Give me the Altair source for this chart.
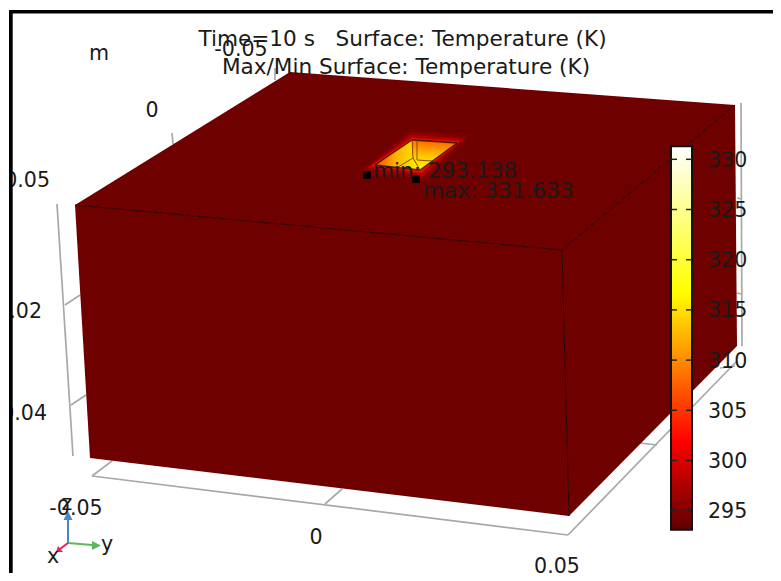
import altair as alt

# Projected outline of the model, in picture units
FACES = {
    "top": [(75, 205), (290, 72), (735, 105), (562, 250)],
    "front": [(75, 205), (562, 250), (569, 516), (90, 458)],
    "side": [(562, 250), (735, 105), (737, 346), (569, 516)],
}
GLOW = [
    ("#780000", [(356, 173), (410, 129), (472, 135), (425, 182)]),
    ("#8e0000", [(362, 171), (411, 132), (467, 137), (424, 179)]),
    ("#b00000", [(367, 168), (411, 135), (463, 139), (423, 176)]),
    ("#e01000", [(371, 166), (411.5, 138), (460, 141), (421, 173)]),
]
HOT_LEFT = [(375, 165), (412, 140), (413, 158), (420, 170)]
HOT_RIGHT = [(412, 140), (457, 143), (420, 170), (413, 158)]
EDGES = [
    ((75, 205), (562, 250)), ((562, 250), (735, 105)), ((562, 250), (569, 516)),
    ((375, 165), (412, 140)), ((412, 140), (457, 143)), ((457, 143), (420, 170)),
    ((420, 170), (375, 165)), ((412, 140), (413, 158)), ((417, 140), (417, 160)),
    ((413, 158), (420, 170)), ((413, 158), (398, 167)), ((417, 160), (432, 161)),
]
GRID = [
    ((57, 204), (73, 456)), ((65, 305), (80, 295)), ((71, 405), (86, 395)),
    ((172, 133), (173, 144)), ((275, 68), (275, 80)),
    ((92, 476), (568, 535)), ((92, 476), (112, 461)), ((325, 504), (342, 489)),
    ((568, 535), (736, 362)),
    ((640, 443), (657, 445)), ((720, 368), (735, 366)),
    ((741, 103), (742, 346)), ((737, 198), (741, 199)), ((737, 293), (741, 294)),
]
TRIAD = [
    ("#4a86c8", (68, 543), (68, 519), [(68, 511), (63.5, 520), (72.5, 520)]),
    ("#5cb85c", (68, 543), (92, 545), [(101, 545.5), (92, 541), (92, 550)]),
    ("#e0245e", (68, 543), (60, 549), [(56, 552), (58, 546), (63, 552)]),
]
TITLES = [
    ("Time=10 s\u00a0\u00a0\u00a0Surface: Temperature (K)", 402.5, 39.5, "center"),
    ("Max/Min Surface: Temperature (K)", 406, 68, "center"),
    ("min: 293.138", 373, 171.5, "left"),
    ("max: 331.633", 423, 191.5, "left"),
]
LABELS = [
    ("m", 99, 54, "center"),
    ("-0.05", 241, 49.5, "center"),
    ("0", 152, 111, "center"),
    ("0.05", 50, 181, "right"),
    ("0.02", 42, 312, "right"),
    ("0.04", 47, 413.5, "right"),
    ("-0.05", 76, 508.5, "center"),
    ("0", 316, 538, "center"),
    ("0.05", 557, 567, "center"),
    ("z", 67, 504, "center"),
    ("y", 107, 545, "center"),
    ("x", 53, 557, "center"),
]
MARKERS = [(367, 175), (416, 179)]
BAR_TICKS = [295, 300, 305, 310, 315, 320, 325, 330]
BAR_LOW, BAR_HIGH = 293.11, 331.3

X = alt.Scale(domain=[8, 773])
Y = alt.Scale(domain=[573, 8])
# 10.04 picture units per kelvin, 330 K sits at 159.3
T_SCALE = alt.Scale(domain=[330 - (573 - 159.3) / 10.04, 330 + (159.3 - 8) / 10.04])
PROJ = alt.Projection(type="identity", scale=1, translate=[-8, -8])
FONT = "DejaVu Sans"


def poly(points):
    ring = [list(p) for p in points] + [list(points[0])]
    return alt.Data(values=[{"type": "Feature", "geometry": {"type": "Polygon", "coordinates": [ring]}, "properties": {}}],
                    format=alt.DataFormat(type="json"))


def shape(points, fill, **kw):
    return alt.Chart(poly(points)).mark_geoshape(fill=fill, stroke=None, strokeWidth=0, **kw).project(**PROJ.to_dict())


def segs(segments):
    return [dict(x=a[0], y=a[1], x2=b[0], y2=b[1]) for a, b in segments]


def rules(segments, color, width, opacity=1):
    return alt.Chart(alt.Data(values=segs(segments))).mark_rule(color=color, strokeWidth=width, opacity=opacity).encode(
        x=alt.X("x:Q", scale=X, axis=None), y=alt.Y("y:Q", scale=Y, axis=None), x2="x2:Q", y2="y2:Q")


def texts(rows, size):
    out = []
    for align in ("left", "center", "right"):
        vals = [dict(t=t, x=x, y=y) for t, x, y, a in rows if a == align]
        if vals:
            out.append(alt.Chart(alt.Data(values=vals)).mark_text(font=FONT, fontSize=size, align=align, baseline="middle", color="#1a1a1a").encode(
                x=alt.X("x:Q", scale=X, axis=None), y=alt.Y("y:Q", scale=Y, axis=None), text="t:N"))
    return out


layers = [rules(GRID, "#a8a8a8", 1.7)]
layers += [shape(p, "#6e0000") for p in FACES.values()]
layers += [shape(p, c) for c, p in GLOW]
layers.append(shape(HOT_LEFT, alt.Gradient(gradient="linear", x1=0, y1=0.5, x2=1, y2=0.6, stops=[
    alt.GradientStop(color="#f84000", offset=0), alt.GradientStop(color="#ffb000", offset=0.45),
    alt.GradientStop(color="#fff000", offset=1)])))
layers.append(shape(HOT_RIGHT, alt.Gradient(gradient="linear", x1=0.5, y1=0, x2=0.4, y2=1, stops=[
    alt.GradientStop(color="#ff6000", offset=0), alt.GradientStop(color="#ffc800", offset=0.55),
    alt.GradientStop(color="#fff400", offset=1)])))
layers.append(rules(EDGES[:3], "#2a0000", 1))
layers.append(rules(EDGES[3:7], "#301000", 1.3, 0.8))
layers.append(rules(EDGES[7:], "#703000", 1, 0.8))
for color, a, b, head in TRIAD:
    layers.append(rules([(a, b)], color, 2))
    layers.append(shape(head, color))

layers += texts(LABELS, 20.6)
layers += texts(TITLES, 21.6)

layers.append(alt.Chart(alt.Data(values=[dict(x=x, y=y) for x, y in MARKERS])).mark_point(
    shape="square", filled=True, size=60, color="black", opacity=1).encode(
    x=alt.X("x:Q", scale=X, axis=None), y=alt.Y("y:Q", scale=Y, axis=None)))

# Colour bar on its own temperature scale
bar_grad = alt.Gradient(gradient="linear", x1=0, y1=0, x2=0, y2=1, stops=[
    alt.GradientStop(color="#ffffff", offset=0),
    alt.GradientStop(color="#ffff00", offset=0.38),
    alt.GradientStop(color="#ff0000", offset=0.77),
    alt.GradientStop(color="#5e0000", offset=1)])
layers.append(alt.Chart(alt.Data(values=[dict(a=BAR_LOW, b=BAR_HIGH)])).mark_rect(
    fill=bar_grad, stroke="#111111", strokeWidth=2).encode(
    x=alt.value(671 - 8), x2=alt.value(692 - 8),
    y=alt.Y("b:Q", scale=T_SCALE, axis=None), y2="a:Q"))
tick_vals = [dict(t=t, s=str(t)) for t in BAR_TICKS]
for x0, x1 in ((671, 677), (686, 692)):
    layers.append(alt.Chart(alt.Data(values=tick_vals)).mark_rule(color="#222222", strokeWidth=1.5).encode(
        x=alt.value(x0 - 8), x2=alt.value(x1 - 8), y=alt.Y("t:Q", scale=T_SCALE, axis=None)))
layers.append(alt.Chart(alt.Data(values=tick_vals)).mark_text(font=FONT, fontSize=20.6, align="left", baseline="middle", dy=1.5, color="#1a1a1a").encode(
    x=alt.value(708 - 8), y=alt.Y("t:Q", scale=T_SCALE, axis=None), text="s:N"))

# Frame
layers.append(shape([(8, 8), (9, 8), (9, 573), (8, 573)], "white"))
layers.append(shape([(9, 10), (773, 10), (773, 13.5), (12.7, 13.5), (12.7, 573), (9, 573)], "black"))

chart = alt.layer(*layers).resolve_scale(y="independent").properties(
    width=765, height=565, padding=0,
    autosize=alt.AutoSizeParams(type="none"),
    background="white",
).configure_view(stroke=None)

chart.save("out.html", embed_options={"renderer": "svg", "actions": False})
